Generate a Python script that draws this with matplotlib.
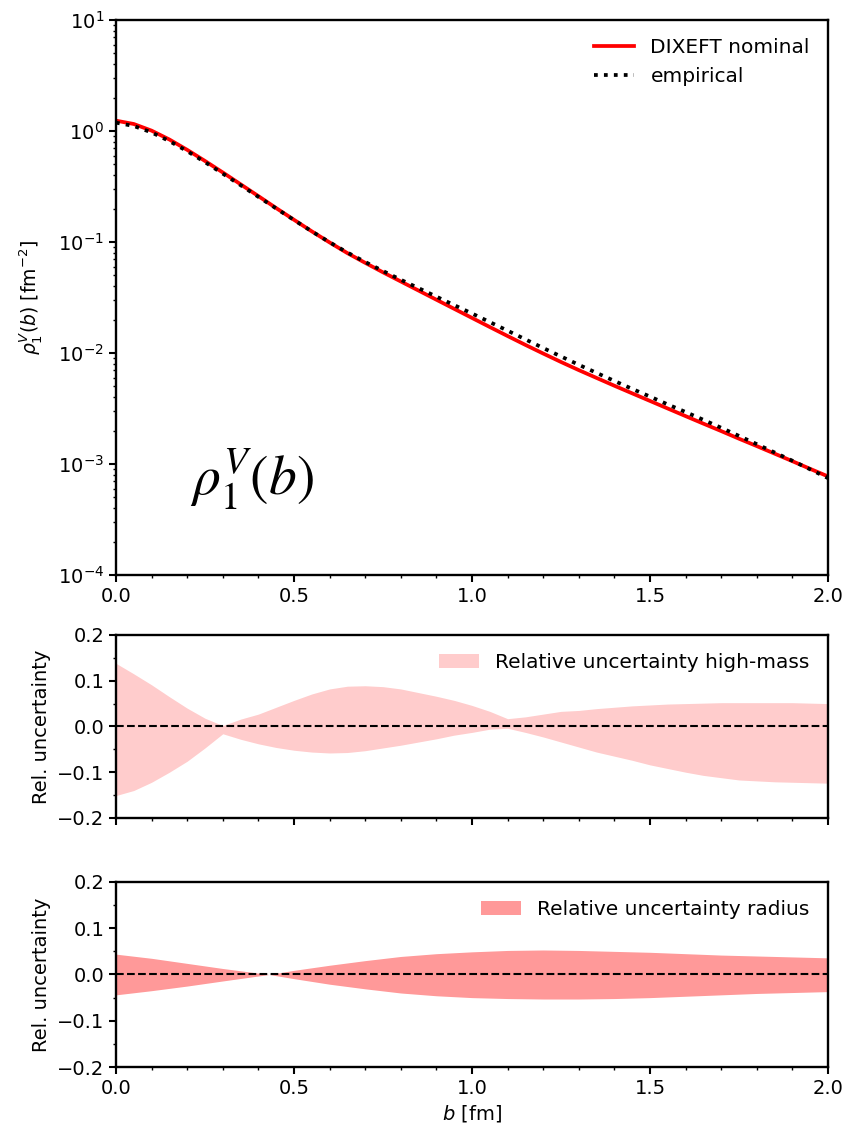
import numpy as np
import matplotlib
matplotlib.use("Agg")
import matplotlib.pyplot as plt
from matplotlib.ticker import MultipleLocator, LogLocator, NullFormatter

# impact parameter grid [fm]
b = [0.00, 0.05, 0.10, 0.15, 0.20, 0.25, 0.30, 0.35, 0.40, 0.45,
     0.50, 0.55, 0.60, 0.65, 0.70, 0.75, 0.80, 0.85, 0.90, 0.95,
     1.00, 1.05, 1.10, 1.15, 1.20, 1.25, 1.30, 1.35, 1.40, 1.45,
     1.50, 1.55, 1.60, 1.65, 1.70, 1.75, 1.80, 1.85, 1.90, 1.95, 2.00]

# rho_1^V(b) [fm^-2]
rho_dixeft = [1.239, 1.156, 1.007, 0.838, 0.676, 0.537, 0.423, 0.331, 0.259, 0.202,
              0.1585, 0.1247, 0.0991, 0.0794, 0.0649, 0.0533, 0.0441, 0.0365, 0.0302, 0.0250,
              0.0207, 0.01714, 0.01422, 0.01183, 0.00989, 0.00830, 0.00701, 0.00596, 0.00507, 0.00433,
              0.00370, 0.00316, 0.00270, 0.00231, 0.00198, 0.00169, 0.00145, 0.00124, 0.00106, 0.000904,
              0.000773]
rho_empirical = [1.189, 1.109, 0.9705, 0.811, 0.658, 0.524, 0.413, 0.325, 0.255, 0.2005,
                 0.1578, 0.1247, 0.0995, 0.0804, 0.0661, 0.0548, 0.0457, 0.0384, 0.0322, 0.0270,
                 0.0227, 0.0190, 0.01589, 0.01327, 0.01109, 0.00931, 0.00783, 0.00662, 0.00560, 0.00475,
                 0.00405, 0.00344, 0.00294, 0.00250, 0.00212, 0.00179, 0.00151, 0.00127, 0.00107, 0.000895,
                 0.000746]

# relative uncertainty, high-mass
hm_upper = [0.138, 0.115, 0.091, 0.065, 0.040, 0.018, 0.002, 0.016, 0.027, 0.042,
            0.057, 0.071, 0.082, 0.088, 0.089, 0.087, 0.082, 0.074, 0.066, 0.057,
            0.046, 0.033, 0.017, 0.021, 0.027, 0.033, 0.035, 0.039, 0.042, 0.045,
            0.047, 0.049, 0.050, 0.051, 0.052, 0.052, 0.052, 0.052, 0.052, 0.051, 0.050]
hm_lower = [-0.151, -0.140, -0.122, -0.100, -0.076, -0.047, -0.016, -0.028, -0.038, -0.046,
            -0.052, -0.056, -0.058, -0.057, -0.053, -0.047, -0.041, -0.034, -0.027, -0.019,
            -0.013, -0.006, -0.004, -0.013, -0.023, -0.034, -0.045, -0.056, -0.065, -0.074,
            -0.084, -0.092, -0.100, -0.107, -0.112, -0.117, -0.119, -0.121, -0.122, -0.123, -0.124]

# relative uncertainty, radius
b_rad = [0.0, 0.1, 0.2, 0.3, 0.43, 0.5, 0.6, 0.7, 0.8, 0.9, 1.0,
         1.1, 1.2, 1.3, 1.4, 1.5, 1.6, 1.7, 1.8, 1.9, 2.0]
rad_upper = [0.044, 0.035, 0.024, 0.013, 0.0, 0.009, 0.020, 0.030, 0.039, 0.045, 0.049,
             0.052, 0.053, 0.052, 0.050, 0.048, 0.045, 0.042, 0.040, 0.038, 0.036]
rad_lower = [-0.044, -0.035, -0.025, -0.014, 0.0, -0.009, -0.021, -0.031, -0.040, -0.046, -0.050,
             -0.052, -0.053, -0.053, -0.052, -0.050, -0.047, -0.044, -0.041, -0.039, -0.037]

fs = 14
plt.rcParams['font.size'] = fs

fig = plt.figure(figsize=(8.46, 11.29), dpi=100)
L, W = 0.1371, 0.8416
ax1 = fig.add_axes([L, 0.4907, W, 0.4916])
ax2 = fig.add_axes([L, 0.2755, W, 0.1621])
ax3 = fig.add_axes([L, 0.0549, W, 0.1639])

for ax in (ax1, ax2, ax3):
    for s in ax.spines.values():
        s.set_linewidth(1.7)
    ax.tick_params(which='major', length=5, width=1.5, labelsize=fs)
    ax.tick_params(which='minor', length=2.5, width=1.0)
    ax.set_xlim(0, 2)
    ax.xaxis.set_major_locator(MultipleLocator(0.5))
    ax.xaxis.set_minor_locator(MultipleLocator(0.1))

# top panel
ax1.semilogy(b, rho_dixeft, color='red', lw=2.7, label='DIXEFT nominal')
ax1.semilogy(b, rho_empirical, color='black', lw=2.7, ls=':', label='empirical')
ax1.set_ylim(1e-4, 1e1)
ax1.yaxis.set_major_locator(LogLocator(base=10, numticks=10))
ax1.yaxis.set_minor_locator(LogLocator(base=10, subs=np.arange(2, 10), numticks=10))
ax1.yaxis.set_minor_formatter(NullFormatter())
ax1.set_ylabel(r'$\rho_1^V(b)$ [fm$^{-2}$]', fontsize=13.5, labelpad=10)
ax1.legend(loc='upper right', frameon=False, fontsize=14.5)
ax1.text(0.104, 0.145, r'$\rho_1^V(b)$', transform=ax1.transAxes,
         fontsize=40, math_fontfamily='stix', va='baseline')

# middle panel
ax2.fill_between(b, hm_lower, hm_upper, color='red', alpha=0.2, lw=0,
                 label='Relative uncertainty high-mass')
ax2.axhline(0, color='black', ls='--', lw=1.5)
ax2.set_ylim(-0.2, 0.2)
ax2.yaxis.set_major_locator(MultipleLocator(0.1))
ax2.yaxis.set_minor_locator(MultipleLocator(0.05))
ax2.set_xticklabels([])
ax2.set_ylabel('Rel. uncertainty')
ax2.legend(loc='upper right', frameon=False, fontsize=14.5)

# bottom panel
ax3.fill_between(b_rad, rad_lower, rad_upper, color='red', alpha=0.4, lw=0,
                 label='Relative uncertainty radius')
ax3.axhline(0, color='black', ls='--', lw=1.5)
ax3.set_ylim(-0.2, 0.2)
ax3.yaxis.set_major_locator(MultipleLocator(0.1))
ax3.yaxis.set_minor_locator(MultipleLocator(0.05))
ax3.set_ylabel('Rel. uncertainty')
ax3.set_xlabel(r'$b$ [fm]')
ax3.legend(loc='upper right', frameon=False, fontsize=14.5)

fig.savefig('out.png', dpi=100)
